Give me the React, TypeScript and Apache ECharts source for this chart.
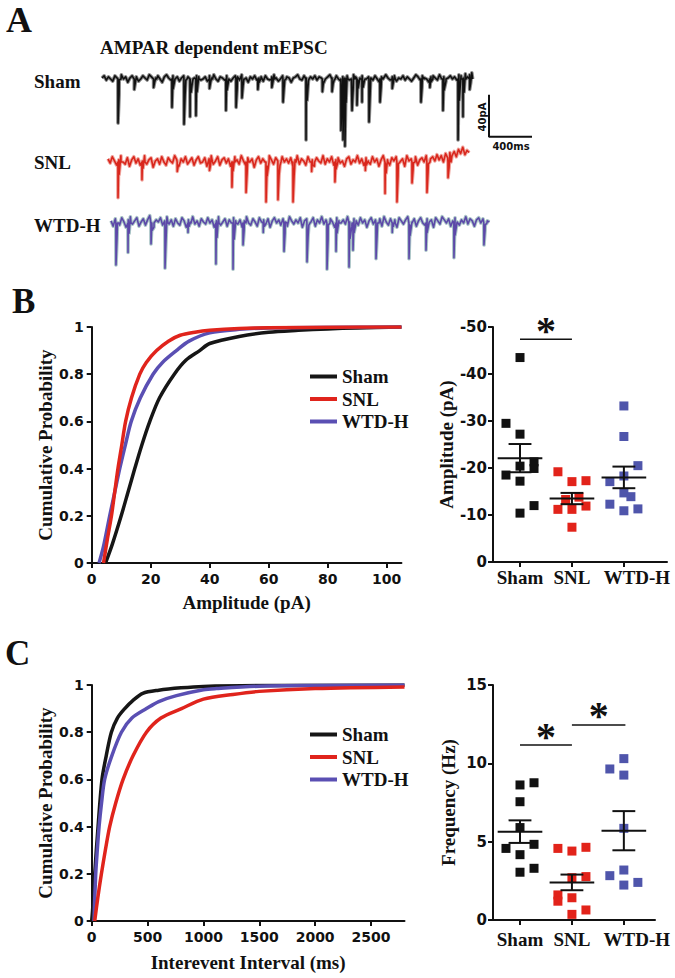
import React, { useEffect, useRef } from "react";
import * as echarts from "echarts";

const SERIF = "'Liberation Serif', 'Times New Roman', serif";
const SANS = "'DejaVu Sans', sans-serif";

const groups = ["Sham", "SNL", "WTD-H"];
const lineColors = ["#161616", "#e0241c", "#5a4fb3"];
const dotColors = ["#111111", "#e2231a", "#4f55ab"];

// ---------- Panel A: example traces (time in ms, current in pA relative to baseline) ----------
const traceStep = 20;
const shamStart = 0;
const snlStart = 56;
const wtdStart = 84;

const shamNoise = [
  1, 3, -1, 2, 0, -2, 3, 1, -1, 4,
  0, 2, -3, 1, 3, -1, 2, -2, 0, 3,
  1, -1, 4, 2, -2, 1, 3, 0, -3, 2,
  4, 1, -1, 3, 0, 2, -2, 1, 3, -1,
  2, 0, -4, 1, 3, 2, -1, 0, 2, -2,
  3, 1, 4, 0, -2, 2, 1, -1, 3, 0,
  -2, 1, 3, 2, -1, 4, 0, 1, -3, 2,
  0, 3, -1, 1, 2, -2, 3, 0, -1, 2,
  4, 1, -2, 0, 3, -1, 2, 1, -3, 1,
  2, 4, 0, -1, 3, 1, -2, 2, 0, 3,
  -1, 2, 1, -3, 0, 2, 4, 1, -1, 3,
  0, -2, 2, 1, 3, -1, 0, 4, 2, -1,
  1, 3, -2, 0, 2, 1, -1, 3, 0, -3,
  2, 0, 4, 1, -1, 2, 3, -2, 1, 0,
  3, -1, 2, 0, -2, 1, 4, 2, -1, 3,
  1, 0, -3, 2, 3, 1, -1, 4, 0, 2,
  -2, 1, 3, 0, 2, -1, 4, 3, 1, 5,
  2, 4, 6,
];
const snlNoise = [
  3, -1, 5, 1, -3, 2, 6, 0, -2, 4,
  -4, 2, 5, -1, 3, -3, 1, 6, -2, 2,
  4, -5, 1, 3, -2, 5, 0, -3, 4, 1,
  -1, 6, 2, -4, 3, 0, 5, -2, 1, 4,
  -3, 2, 5, -1, 0, 4, -4, 3, 6, -2,
  1, 5, -3, 2, 4, -1, 3, -4, 0, 5,
  2, -2, 6, 1, -3, 4, 0, 3, -5, 2,
  5, -1, 3, 0, -4, 6, 2, -2, 4, 1,
  -3, 5, 0, 3, -1, 4, -4, 2, 6, -2,
  3, 1, -3, 5, 0, 2, -4, 4, 1, -1,
  6, -2, 3, 0, 5, -3, 2, 4, -1, 1,
  -4, 3, 5, -2, 2, 0, 6, -1, 3, -3,
  4, 1, -2, 5, 0, 3, -4, 2, 6, -1,
  2, -3, 4, 1, 5, -2, 0, 3, -4, 6,
  1, 3, -1, 5, -3, 2, 4, 0, 6, -2,
  3, 5, 1, 7, 2, 6, 0, 8, 4, 9,
  6, 10, 5, 12, 8, 14, 7, 11, 9,
];
const wtdNoise = [
  2, -3, 4, 0, -2, 5, 1, -4, 3, 6,
  -1, 2, 5, -3, 1, 4, -2, 3, 7, 0,
  -4, 3, 1, 5, -2, 2, 6, -1, 3, -3,
  4, 0, -2, 5, 2, -4, 3, 1, 6, -1,
  2, -3, 4, 1, -1, 5, 0, 3, -4, 2,
  6, -2, 1, 4, -3, 3, 0, 5, 2, -1,
  3, -4, 2, 6, 0, -2, 4, 1, -3, 5,
  1, 3, -1, 4, -4, 2, 5, 0, 3, -2,
  4, 1, -3, 6, 2, -1, 3, 0, 5, -4,
  2, 4, -2, 1, 5, -3, 3, 0, 6, -1,
  3, -2, 4, 1, -4, 5, 2, 0, 3, -1,
  6, 1, -3, 4, 2, -2, 5, 0, 3, -4,
  2, 5, -1, 3, 0, 4, -3, 6, 1, -2,
  4, 0, 3, -4, 5, 2, -1, 3, 6, -2,
  1, 4, -3, 2, 5, 0, -2, 4, 1, 3,
  -4, 5, 2, -1, 6, 3, 0, 4, -3, 2,
  5, 1, -2, 3, 0, 6, -1, 4, 2, -3,
  3, 5, 0, 4, -2, 2, 1,
];

// [time ms, peak amplitude pA]
const shamEvents = [
  [149, -42], [300, -10], [480, -8], [651, -27], [763, -43], [819, -36], [874, -35],
  [1000, -9], [1153, -30], [1247, -27], [1302, -18], [1450, -10], [1580, -8], [1684, -22],
  [1898, -58], [2050, -12], [2140, -12], [2223, -49], [2242, -58], [2260, -64], [2326, -30],
  [2372, -25], [2419, -22], [2484, -41], [2586, -22], [2700, -9], [2967, -22], [3050, -8],
  [3172, -30], [3312, -58], [3358, -36], [3420, -10],
];
const snlEvents = [
  [149, -34], [372, -17], [700, -9], [1000, -8], [1209, -24], [1340, -29], [1526, -38],
  [1637, -36], [1777, -38], [1950, -9], [2167, -19], [2450, -8], [2633, -30], [2744, -38],
  [2884, -20], [3023, -29], [3219, -15],
];
const wtdEvents = [
  [130, -40], [242, -28], [456, -20], [586, -43], [800, -9], [1060, -39], [1219, -44],
  [1312, -21], [1500, -9], [1693, -27], [1907, -37], [2093, -44], [2177, -27], [2298, -42],
  [2335, -26], [2549, -34], [2700, -9], [2856, -34], [3014, -26], [3274, -33], [3553, -21],
];

// scale bar (ms, pA) in the Sham trace frame
const scaleBar = [[3600, -15], [3600, -55], [4000, -55]];

// ---------- Panel B: amplitude ----------
const ampTicks = [0, 20, 40, 60, 80, 100];
const ampCdfSham = [[4.7, 0], [7, 0.08], [10, 0.2], [12.3, 0.3], [14.6, 0.4], [17, 0.5], [19.7, 0.6], [23, 0.7], [28, 0.8], [32, 0.86], [36.6, 0.9], [40, 0.93], [50, 0.96], [60, 0.978], [70, 0.986], [80, 0.992], [90, 0.996], [105, 1]];
const ampCdfSnl = [[4, 0], [5.3, 0.1], [6.7, 0.2], [7.8, 0.3], [8.9, 0.4], [10.2, 0.5], [11.5, 0.6], [13.5, 0.7], [16.3, 0.8], [18.5, 0.85], [22, 0.9], [26, 0.94], [30, 0.965], [35, 0.978], [40, 0.986], [50, 0.994], [60, 0.997], [80, 0.999], [105, 1]];
const ampCdfWtd = [[2.5, 0], [4, 0.07], [6.1, 0.2], [7.8, 0.3], [9.5, 0.4], [11.4, 0.5], [13.4, 0.6], [16.5, 0.7], [20.8, 0.8], [24, 0.85], [28.7, 0.9], [33, 0.94], [40, 0.975], [50, 0.99], [60, 0.996], [80, 0.999], [105, 1]];

const ampSham = [43.5, 29.5, 27.2, 21.3, 20.4, 19.9, 18.5, 17.2, 12.0, 10.4];
const ampShamLane = [0, -1, 0, 1, 0, 1, -1, 0, 1, 0];
const ampSnl = [19.2, 17.1, 17.3, 13.3, 13.8, 11.2, 11.2, 11.9, 7.4];
const ampSnlLane = [-1, 0, 1, -0.45, 0.5, -1, 0, 1, 0];
const ampWtd = [33.2, 26.7, 20.5, 18.3, 17.1, 14.7, 13.9, 12.3, 10.9, 11.3];
const ampWtdLane = [0, 0, 1, 0, -1, 0, 0.5, -1, 0, 1];
const ampMean = [22.1, 13.5, 18.0];
const ampSem = [3.0, 1.2, 2.3];
const ampSig = [[1, 2, 47.4]];

// ---------- Panel C: frequency ----------
const iviTicks = [0, 500, 1000, 1500, 2000, 2500];
const iviCdfSham = [[0, 0], [10, 0.06], [27, 0.2], [57, 0.4], [92, 0.6], [130, 0.7], [176, 0.8], [230, 0.86], [296, 0.9], [370, 0.935], [457, 0.965], [600, 0.978], [800, 0.988], [1000, 0.994], [1500, 0.998], [2800, 1]];
const iviCdfSnl = [[27, 0], [55, 0.1], [87, 0.2], [122, 0.3], [161, 0.4], [215, 0.5], [281, 0.6], [370, 0.7], [490, 0.8], [620, 0.86], [804, 0.9], [1000, 0.94], [1265, 0.96], [1500, 0.973], [2000, 0.985], [2800, 0.992]];
const iviCdfWtd = [[20, 0], [36, 0.2], [50, 0.3], [66, 0.4], [88, 0.5], [116, 0.6], [180, 0.7], [266, 0.8], [360, 0.86], [490, 0.9], [600, 0.93], [759, 0.955], [1000, 0.98], [1117, 0.985], [1500, 0.995], [2000, 0.998], [2800, 1]];

const frqSham = [8.62, 8.76, 7.55, 5.9, 4.57, 4.83, 4.17, 3.05, 3.3];
const frqShamLane = [0, 1, 0, 0, -1, 1, 0, 0, 1];
const frqSnl = [4.57, 4.4, 4.64, 2.7, 2.77, 1.6, 1.2, 1.42, 0.64, 0.36];
const frqSnlLane = [-1, 0, 1, 0, 1, -1, -1, 0, 1, 0];
const frqWtd = [10.3, 9.64, 9.25, 5.85, 2.83, 3.19, 2.4, 2.23];
const frqWtdLane = [0, -1, 0, 0, -1, 0, 1, 0];
const frqMean = [5.64, 2.4, 5.7];
const frqSem = [0.72, 0.5, 1.25];
const frqSig = [[1, 2, 11.17], [2, 3.03, 12.45]];

const JIT = 0.27;

function buildTrace(start: number, noise: number[], events: number[][]) {
  const pts: number[][] = noise.map((v, i) => [start + i * traceStep, v]);
  events.forEach(([t, a]) => {
    pts.push([t - 1, 0], [t, a], [t + 10, a * 0.35], [t + 28, 0]);
  });
  pts.sort((p, q) => p[0] - q[0]);
  return pts;
}

function lanePts(center: number, vals: number[], lanes: number[]) {
  return vals.map((v, i) => [center + lanes[i] * JIT, v]);
}

const serifBold = (size: number) => ({
  fontFamily: SERIF,
  fontWeight: "bold" as const,
  fontSize: size,
  color: "#111",
});

const axisLineStyle = { show: true, onZero: false, lineStyle: { color: "#111", width: 2 } };
const tickStyle = { show: true, length: 5, lineStyle: { color: "#111", width: 2 } };
const sansLabel = { color: "#111", fontFamily: SANS, fontWeight: "bold" as const, fontSize: 14 };

function meanSemRender(params: any, api: any) {
  const x = api.value(0);
  const m = api.value(1);
  const s = api.value(2);
  const style = { stroke: "#111", lineWidth: 2 };
  const seg = (a: number[], b: number[]) => ({
    type: "line",
    shape: { x1: a[0], y1: a[1], x2: b[0], y2: b[1] },
    style,
  });
  return {
    type: "group",
    children: [
      seg(api.coord([x - 0.43, m]), api.coord([x + 0.43, m])),
      seg(api.coord([x, m - s]), api.coord([x, m + s])),
      seg(api.coord([x - 0.22, m + s]), api.coord([x + 0.22, m + s])),
      seg(api.coord([x - 0.22, m - s]), api.coord([x + 0.22, m - s])),
    ],
  };
}

function sigRender(params: any, api: any) {
  const p1 = api.coord([api.value(0), api.value(2)]);
  const p2 = api.coord([api.value(1), api.value(2)]);
  return {
    type: "group",
    children: [
      { type: "line", shape: { x1: p1[0], y1: p1[1], x2: p2[0], y2: p2[1] }, style: { stroke: "#111", lineWidth: 1.5 } },
      {
        type: "text",
        x: (p1[0] + p2[0]) / 2,
        y: p1[1] - 9,
        style: { text: "*", fill: "#111", font: `bold 40px ${SERIF}`, align: "center", verticalAlign: "middle" },
      },
    ],
  };
}

export default function App() {
  const ref = useRef<HTMLDivElement>(null);
  useEffect(() => {
    if (!ref.current) return;
    const chart = echarts.init(ref.current, undefined, { renderer: "svg" });

    const cdfSeries = (name: string, data: number[][], idx: number, color: string) => ({
      name,
      type: "line",
      xAxisIndex: idx,
      yAxisIndex: idx,
      data,
      smooth: 0.3,
      symbol: "none",
      lineStyle: { color, width: 3.5 },
      itemStyle: { color },
      z: 3,
    });
    const dotSeries = (data: number[][], idx: number, color: string) => ({
      name: "pts",
      type: "scatter",
      xAxisIndex: idx,
      yAxisIndex: idx,
      data,
      symbol: "rect",
      symbolSize: 9,
      itemStyle: { color, opacity: 1 },
      z: 2,
    });
    const traceSeries = (data: number[][], idx: number, under: string, over: string) => [
      { type: "line", xAxisIndex: idx, yAxisIndex: idx, data, symbol: "none", lineStyle: { color: under, width: 3.6, join: "round" }, z: 1 },
      { type: "line", xAxisIndex: idx, yAxisIndex: idx, data, symbol: "none", lineStyle: { color: over, width: 1.6, join: "round" }, z: 2 },
    ];

    const catX = (idx: number, max: number, margin: number) => ({
      type: "value",
      gridIndex: idx,
      min: 0.48,
      max,
      axisLine: axisLineStyle,
      axisTick: { ...tickStyle, customValues: [1, 2, 3] },
      splitLine: { show: false },
      axisLabel: {
        ...serifBold(19),
        margin,
        customValues: [1, 2, 3],
        formatter: (v: number) => {
          const i = Math.round(v) - 1;
          return i === 2 ? "{w|" + groups[i] + "}" : groups[i];
        },
        rich: { w: { ...serifBold(19), padding: [0, 0, 0, 26] } },
      },
    });

    const option: any = {
      animation: false,
      grid: [
        { left: 102, top: 68.5, width: 430, height: 78.75 },
        { left: 102, top: 146.25, width: 430, height: 57.75 },
        { left: 102, top: 207.25, width: 430, height: 63 },
        { left: 91.7, top: 327, width: 309.75, height: 236 },
        { left: 493, top: 327, width: 174, height: 235 },
        { left: 91.7, top: 685, width: 312.8, height: 236 },
        { left: 493, top: 685, width: 162, height: 235 },
      ],
      xAxis: [
        { type: "value", gridIndex: 0, min: 0, max: 4000, show: false },
        { type: "value", gridIndex: 1, min: 0, max: 4000, show: false },
        { type: "value", gridIndex: 2, min: 0, max: 4000, show: false },
        {
          type: "value", gridIndex: 3, min: 0, max: 105,
          axisLine: axisLineStyle,
          axisTick: { ...tickStyle, customValues: ampTicks },
          splitLine: { show: false },
          axisLabel: { ...sansLabel, margin: 9, customValues: ampTicks, formatter: (v: number) => String(v) },
          name: "Amplitude (pA)", nameLocation: "middle", nameGap: 30, nameTextStyle: serifBold(19),
        },
        catX(4, 3.83, 6),
        {
          type: "value", gridIndex: 5, min: 0, max: 2800,
          axisLine: axisLineStyle,
          axisTick: { ...tickStyle, customValues: iviTicks },
          splitLine: { show: false },
          axisLabel: { ...sansLabel, margin: 9, customValues: iviTicks, formatter: (v: number) => String(v) },
          name: "Interevent Interval (ms)", nameLocation: "middle", nameGap: 32, nameTextStyle: serifBold(19),
        },
        catX(6, 3.6, 10),
      ],
      yAxis: [
        { type: "value", gridIndex: 0, min: -65, max: 10, show: false },
        { type: "value", gridIndex: 1, min: -40, max: 15, show: false },
        { type: "value", gridIndex: 2, min: -45, max: 15, show: false },
        {
          type: "value", gridIndex: 3, min: 0, max: 1, interval: 0.2,
          axisLine: axisLineStyle, axisTick: tickStyle, splitLine: { show: false },
          axisLabel: { ...sansLabel, margin: 8, formatter: (v: number) => (v === 0 || v === 1 ? String(v) : v.toFixed(1)) },
          name: "Cumulative Probability", nameLocation: "middle", nameRotate: 90, nameGap: 37, nameTextStyle: serifBold(19),
        },
        {
          type: "value", gridIndex: 4, min: 0, max: 50, interval: 10,
          axisLine: axisLineStyle, axisTick: tickStyle, splitLine: { show: false },
          axisLabel: { ...sansLabel, fontSize: 15, margin: 6, formatter: (v: number) => (v === 0 ? "0" : "-" + v) },
          name: "Amplitude (pA)", nameLocation: "middle", nameRotate: 90, nameGap: 36.5, nameTextStyle: serifBold(19),
        },
        {
          type: "value", gridIndex: 5, min: 0, max: 1, interval: 0.2,
          axisLine: axisLineStyle, axisTick: tickStyle, splitLine: { show: false },
          axisLabel: { ...sansLabel, margin: 8, formatter: (v: number) => (v === 0 || v === 1 ? String(v) : v.toFixed(1)) },
          name: "Cumulative Probability", nameLocation: "middle", nameRotate: 90, nameGap: 37, nameTextStyle: serifBold(19),
        },
        {
          type: "value", gridIndex: 6, min: 0, max: 15, interval: 5,
          axisLine: axisLineStyle, axisTick: tickStyle, splitLine: { show: false },
          axisLabel: { ...sansLabel, fontSize: 15, margin: 6 },
          name: "Frequency (Hz)", nameLocation: "middle", nameRotate: 90, nameGap: 35.5, nameTextStyle: serifBold(19),
        },
      ],
      legend: [
        {
          orient: "vertical", left: 305, top: 362, itemWidth: 27, itemHeight: 4, itemGap: 3.5,
          icon: "rect", selectedMode: false, data: groups,
          textStyle: { ...serifBold(19), lineHeight: 19 },
        },
        {
          orient: "vertical", left: 305, top: 720, itemWidth: 27, itemHeight: 4, itemGap: 3.5,
          icon: "rect", selectedMode: false, data: groups,
          textStyle: { ...serifBold(19), lineHeight: 19 },
        },
      ],
      graphic: [
        { type: "text", left: 6, top: 2, style: { text: "A", font: `bold 36px ${SERIF}`, fill: "#111" } },
        { type: "text", left: 12, top: 284, style: { text: "B", font: `bold 35px ${SERIF}`, fill: "#111" } },
        { type: "text", left: 5, top: 636, style: { text: "C", font: `bold 35px ${SERIF}`, fill: "#111" } },
        { type: "text", x: 100, y: 47, style: { text: "AMPAR dependent mEPSC", font: `bold 19px ${SERIF}`, fill: "#111", verticalAlign: "middle" } },
        { type: "text", x: 34, y: 81, style: { text: "Sham", font: `bold 19px ${SERIF}`, fill: "#111", verticalAlign: "middle" } },
        { type: "text", x: 34, y: 162.5, style: { text: "SNL", font: `bold 19px ${SERIF}`, fill: "#111", verticalAlign: "middle" } },
        { type: "text", x: 34, y: 225.5, style: { text: "WTD-H", font: `bold 19px ${SERIF}`, fill: "#111", verticalAlign: "middle" } },
        { type: "text", x: 482, y: 117, rotation: Math.PI / 2, style: { text: "40pA", font: `bold 10px ${SANS}`, fill: "#111", align: "center", verticalAlign: "middle" } },
        { type: "text", x: 511, y: 146, style: { text: "400ms", font: `bold 10px ${SANS}`, fill: "#111", align: "center", verticalAlign: "middle" } },
      ],
      series: [
        ...traceSeries(buildTrace(shamStart, shamNoise, shamEvents), 0, "#8a8a8a", "#111111"),
        ...traceSeries(buildTrace(snlStart, snlNoise, snlEvents), 1, "#efa59e", "#d9261c"),
        ...traceSeries(buildTrace(wtdStart, wtdNoise, wtdEvents), 2, "#a9c4c6", "#5c48a8"),
        { type: "line", xAxisIndex: 0, yAxisIndex: 0, data: scaleBar, symbol: "none", lineStyle: { color: "#111", width: 2 }, z: 3 },

        cdfSeries("Sham", ampCdfSham, 3, lineColors[0]),
        cdfSeries("WTD-H", ampCdfWtd, 3, lineColors[2]),
        cdfSeries("SNL", ampCdfSnl, 3, lineColors[1]),

        dotSeries(lanePts(1, ampSham, ampShamLane), 4, dotColors[0]),
        dotSeries(lanePts(2, ampSnl, ampSnlLane), 4, dotColors[1]),
        dotSeries(lanePts(3, ampWtd, ampWtdLane), 4, dotColors[2]),
        {
          type: "custom", xAxisIndex: 4, yAxisIndex: 4, renderItem: meanSemRender, z: 5,
          data: ampMean.map((m, i) => [i + 1, m, ampSem[i]]),
        },
        { type: "custom", xAxisIndex: 4, yAxisIndex: 4, renderItem: sigRender, z: 5, data: ampSig },

        cdfSeries("Sham", iviCdfSham, 5, lineColors[0]),
        cdfSeries("WTD-H", iviCdfWtd, 5, lineColors[2]),
        cdfSeries("SNL", iviCdfSnl, 5, lineColors[1]),

        dotSeries(lanePts(1, frqSham, frqShamLane), 6, dotColors[0]),
        dotSeries(lanePts(2, frqSnl, frqSnlLane), 6, dotColors[1]),
        dotSeries(lanePts(3, frqWtd, frqWtdLane), 6, dotColors[2]),
        {
          type: "custom", xAxisIndex: 6, yAxisIndex: 6, renderItem: meanSemRender, z: 5,
          data: frqMean.map((m, i) => [i + 1, m, frqSem[i]]),
        },
        { type: "custom", xAxisIndex: 6, yAxisIndex: 6, renderItem: sigRender, z: 5, data: frqSig },
      ],
    };

    chart.setOption(option);
    return () => chart.dispose();
  }, []);

  return (
    <div
      ref={ref}
      style={{ position: "absolute", left: 0, top: 0, width: 675, height: 978, background: "#fff" }}
    />
  );
}
